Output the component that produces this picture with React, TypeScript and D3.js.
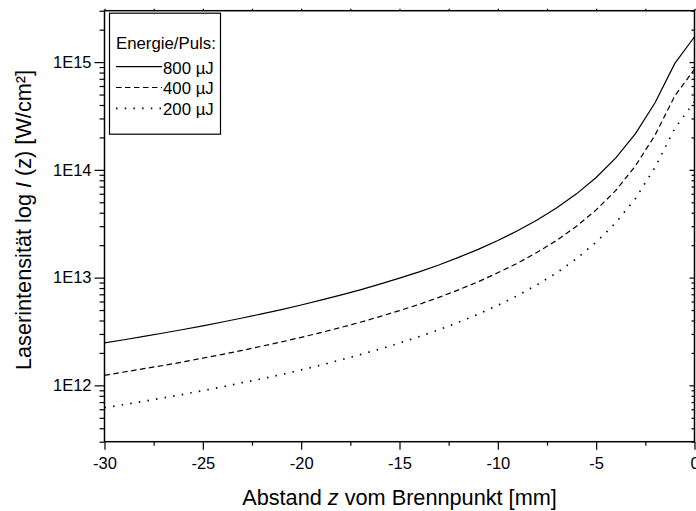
import React, { useEffect, useRef } from "react";
import * as d3 from "d3";

const WIDTH = 696;
const HEIGHT = 511;

// Abstand z vom Brennpunkt [mm]
const abstand = [
  -30, -29, -28, -27, -26, -25, -24, -23, -22, -21, -20, -19, -18, -17, -16,
  -15, -14, -13, -12, -11, -10, -9, -8, -7, -6, -5, -4, -3, -2, -1, 0,
];

// Laserintensität [W/cm²]
const puls800 = [
  2.48e12, 2.65e12, 2.85e12, 3.06e12, 3.3e12, 3.57e12, 3.87e12, 4.22e12,
  4.61e12, 5.05e12, 5.57e12, 6.17e12, 6.87e12, 7.7e12, 8.69e12, 9.88e12,
  1.13e13, 1.31e13, 1.54e13, 1.83e13, 2.21e13, 2.72e13, 3.43e13, 4.44e13,
  5.99e13, 8.5e13, 1.29e14, 2.17e14, 4.22e14, 9.72e14, 1.72e15,
];
const puls400 = [
  1.24e12, 1.33e12, 1.43e12, 1.53e12, 1.65e12, 1.79e12, 1.94e12, 2.11e12,
  2.31e12, 2.53e12, 2.79e12, 3.09e12, 3.44e12, 3.85e12, 4.35e12, 4.94e12,
  5.65e12, 6.55e12, 7.7e12, 9.15e12, 1.11e13, 1.36e13, 1.72e13, 2.22e13,
  3.0e13, 4.25e13, 6.45e13, 1.09e14, 2.11e14, 4.86e14, 8.6e14,
];
const puls200 = [
  6.2e11, 6.63e11, 7.13e11, 7.65e11, 8.25e11, 8.93e11, 9.68e11, 1.06e12,
  1.15e12, 1.26e12, 1.39e12, 1.54e12, 1.72e12, 1.93e12, 2.17e12, 2.47e12,
  2.83e12, 3.28e12, 3.85e12, 4.58e12, 5.53e12, 6.8e12, 8.58e12, 1.11e13,
  1.5e13, 2.13e13, 3.23e13, 5.43e13, 1.06e14, 2.43e14, 4.3e14,
];

const seriesLabels = ["800 µJ", "400 µJ", "200 µJ"];
const seriesDash = [null, "5.5,3.5", "1.5,7.2"];
const legendTitle = "Energie/Puls:";

const xTicks = [-30, -25, -20, -15, -10, -5, 0];
const xMinorTicks = [-27.5, -22.5, -17.5, -12.5, -7.5, -2.5];
const yTicks = [1e12, 1e13, 1e14, 1e15];
const yTickLabels = ["1E12", "1E13", "1E14", "1E15"];

const FONT = "'Liberation Sans', Arial, Helvetica, sans-serif";

export default function App() {
  const ref = useRef<SVGSVGElement | null>(null);

  useEffect(() => {
    document.body.style.margin = "0";
    drawChart();
  }, []);

  function drawChart() {
    const margin = { top: 10.7, right: 1.5, bottom: 69.3, left: 104.5 };
    const w = WIDTH - margin.left - margin.right;
    const h = HEIGHT - margin.top - margin.bottom;

    const root = d3.select(ref.current);
    root.selectAll("*").remove();

    const svg = root
      .append("g")
      .attr("transform", `translate(${margin.left},${margin.top})`);

    const xScale = d3.scaleLinear().domain([-30, 0]).range([0, w]);
    const yScale = d3.scaleLog().domain([3e11, 3e15]).range([h, 0]);

    const minorY = yScale
      .ticks()
      .filter((v) => !yTicks.some((t) => Math.abs(t - v) / t < 1e-6));

    const styleAxis = (g: any) => {
      g.select(".domain").remove();
      g.selectAll("line").attr("stroke", "#000").attr("stroke-width", 1.2);
      g.selectAll("text")
        .attr("fill", "#000")
        .style("font-family", FONT)
        .style("font-size", "16.5px");
    };

    // left axis
    svg
      .append("g")
      .call(d3.axisLeft(yScale).tickValues(minorY).tickSize(5).tickFormat(() => ""))
      .call(styleAxis);
    svg
      .append("g")
      .call(
        d3
          .axisLeft(yScale)
          .tickValues(yTicks)
          .tickSize(10)
          .tickPadding(3)
          .tickFormat((d, i) => yTickLabels[i])
      )
      .call(styleAxis);

    // right axis (inward ticks)
    svg
      .append("g")
      .attr("transform", `translate(${w},0)`)
      .call(d3.axisLeft(yScale).tickValues(minorY).tickSize(3).tickFormat(() => ""))
      .call(styleAxis);
    svg
      .append("g")
      .attr("transform", `translate(${w},0)`)
      .call(d3.axisLeft(yScale).tickValues(yTicks).tickSize(5).tickFormat(() => ""))
      .call(styleAxis);

    // bottom axis
    svg
      .append("g")
      .attr("transform", `translate(0,${h})`)
      .call(d3.axisBottom(xScale).tickValues(xMinorTicks).tickSize(4).tickFormat(() => ""))
      .call(styleAxis);
    svg
      .append("g")
      .attr("transform", `translate(0,${h})`)
      .call(
        d3
          .axisBottom(xScale)
          .tickValues(xTicks)
          .tickSize(8)
          .tickPadding(8)
          .tickFormat((d) => String(d))
      )
      .call(styleAxis);

    // top axis
    svg
      .append("g")
      .call(
        d3
          .axisTop(xScale)
          .tickValues(xTicks.concat(xMinorTicks))
          .tickSize(2)
          .tickFormat(() => "")
      )
      .call(styleAxis);

    // frame
    svg
      .append("rect")
      .attr("width", w)
      .attr("height", h)
      .attr("fill", "none")
      .attr("stroke", "#000")
      .attr("stroke-width", 1.5);

    const line = d3
      .line<number>()
      .x((d, i) => xScale(abstand[i]))
      .y((d) => yScale(d));

    [puls800, puls400, puls200].forEach((s, i) => {
      svg
        .append("path")
        .datum(s)
        .attr("fill", "none")
        .attr("stroke", "#000")
        .attr("stroke-width", i === 2 ? 1.7 : 1.2)
        .attr("stroke-dasharray", seriesDash[i])
        .attr("d", line);
    });

    // legend
    const lg = svg.append("g").attr("transform", "translate(5,2.5)");
    lg.append("rect")
      .attr("width", 111)
      .attr("height", 121)
      .attr("fill", "#fff")
      .attr("stroke", "#000")
      .attr("stroke-width", 1.2);
    lg.append("text")
      .attr("x", 6.5)
      .attr("y", 35.5)
      .attr("fill", "#000")
      .style("font-family", FONT)
      .style("font-size", "16.8px")
      .text(legendTitle);
    seriesLabels.forEach((lab, i) => {
      const yy = 53.5 + i * 20.8;
      lg.append("line")
        .attr("x1", 6.5)
        .attr("x2", 52.5)
        .attr("y1", yy)
        .attr("y2", yy)
        .attr("stroke", "#000")
        .attr("stroke-width", i === 2 ? 1.7 : 1.2)
        .attr("stroke-dasharray", seriesDash[i]);
      lg.append("text")
        .attr("x", 53.5)
        .attr("y", yy + 7)
        .attr("fill", "#000")
        .style("font-family", FONT)
        .style("font-size", "16.8px")
        .text(lab);
    });

    // x title
    const xt = svg
      .append("text")
      .attr("x", w / 2)
      .attr("y", h + 63)
      .attr("text-anchor", "middle")
      .attr("fill", "#000")
      .style("font-family", FONT)
      .style("font-size", "21.7px");
    xt.append("tspan").text("Abstand ");
    xt.append("tspan").style("font-style", "italic").text("z");
    xt.append("tspan").text(" vom Brennpunkt [mm]");

    // y title
    const yt = svg
      .append("text")
      .attr("transform", `translate(${31 - margin.left},${220 - margin.top})rotate(-90)`)
      .attr("text-anchor", "middle")
      .attr("fill", "#000")
      .style("font-family", FONT)
      .style("font-size", "21.7px");
    yt.append("tspan").text("Laserintensität log ");
    yt.append("tspan").style("font-style", "italic").text("I");
    yt.append("tspan").text(" (z) [W/cm²]");
  }

  return (
    <svg
      ref={ref}
      width={WIDTH}
      height={HEIGHT}
      style={{ display: "block", background: "#fff" }}
    />
  );
}
